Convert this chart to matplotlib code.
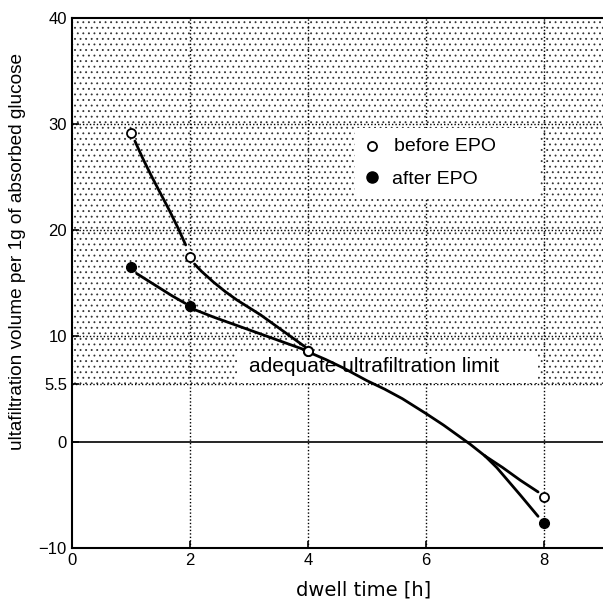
import matplotlib.pyplot as plt

# measured points
x_pts = [1, 2, 4, 8]
before_epo = [29.2, 17.5, 8.6, -5.2]
after_epo = [16.5, 12.8, 8.6, -7.6]

# hand-read fitted curves (segments between markers)
before_x1 = [1.07, 1.2, 1.35, 1.5, 1.65, 1.8, 1.93]
before_y1 = [28.4, 26.8, 25.1, 23.5, 21.9, 20.2, 18.6]
before_x2 = [2.08, 2.2, 2.4, 2.6, 2.8, 3.0, 3.2, 3.4, 3.6, 3.8, 3.95]
before_y2 = [16.8, 16.1, 15.1, 14.2, 13.4, 12.7, 12.0, 11.2, 10.4, 9.6, 9.0]
after_x1 = [1.1, 1.3, 1.5, 1.7, 1.92]
after_y1 = [15.9, 15.2, 14.5, 13.8, 13.1]
after_x2 = [2.08, 2.4, 2.8, 3.2, 3.6, 3.95]
after_y2 = [12.5, 11.8, 11.0, 10.2, 9.4, 8.7]
common_x = [4.05, 4.3, 4.6, 5.0, 5.3, 5.6, 6.0, 6.3, 6.55, 6.75, 7.0]
common_y = [8.4, 7.8, 7.0, 5.8, 5.0, 4.1, 2.7, 1.6, 0.6, -0.2, -1.3]
before_x3 = [7.0, 7.3, 7.6, 7.9]
before_y3 = [-1.3, -2.4, -3.6, -4.7]
after_x3 = [7.0, 7.2, 7.4, 7.6, 7.9]
after_y3 = [-1.3, -2.4, -3.7, -5.0, -7.0]

limit = 5.5
y_ticks = [-10, 0, 5.5, 10, 20, 30, 40]
y_tick_labels = ['\u221210', '0', '5.5', '10', '20', '30', '40']
x_ticks = [0, 2, 4, 6, 8]

plt.rcParams['font.family'] = ['Liberation Sans', 'DejaVu Sans']
plt.rcParams['hatch.color'] = '#333333'
plt.rcParams['hatch.linewidth'] = 0.6

fig = plt.figure(figsize=(6.03, 6.03), dpi=100)
ax = fig.add_axes([0.119, 0.091, 0.881, 0.879])
ax.set_xlim(0, 9)
ax.set_ylim(-10, 40)

# dotted shading above the limit
ax.fill_between([0, 9], limit, 40, facecolor='white', edgecolor='#333333',
                hatch='...', linewidth=0, zorder=0)

# grid
for xv in x_ticks[1:]:
    ax.axvline(xv, color='black', linestyle=(0, (1, 1.5)), linewidth=1.0, zorder=1)
for yv in [10, 20, 30, limit]:
    ax.axhline(yv, color='black', linestyle=(0, (1, 1.5)), linewidth=1.0, zorder=1)
ax.axhline(0, color='black', linewidth=1.2, zorder=1)

# white boxes for the labels
ax.add_patch(plt.Rectangle((2.8, limit + 0.1), 5.1, 2.75, facecolor='white',
                           edgecolor='none', zorder=2))
ax.text(3.0, 7.1, 'adequate ultrafiltration limit', fontsize=15, va='center',
        ha='left', zorder=2.5)
ax.add_patch(plt.Rectangle((4.8, 23.0), 3.13, 6.6, facecolor='white',
                           edgecolor='none', zorder=2))

# curves
lw = 2.0
for xs, ys in [(before_x1, before_y1), (before_x2, before_y2),
               (after_x1, after_y1), (after_x2, after_y2),
               (common_x, common_y), (before_x3, before_y3),
               (after_x3, after_y3)]:
    ax.plot(xs, ys, color='black', linewidth=lw, zorder=3,
            solid_joinstyle='round', solid_capstyle='round')

ax.plot(x_pts, after_epo, 'o', color='black', markersize=7, linestyle='none', zorder=4)
ax.plot(x_pts, before_epo, 'o', markerfacecolor='white', markeredgecolor='black',
        markeredgewidth=1.3, markersize=6.5, linestyle='none', zorder=5)

# legend drawn by hand
ax.plot([5.08], [27.9], 'o', markerfacecolor='white', markeredgecolor='black',
        markeredgewidth=1.3, markersize=6.5, zorder=4)
ax.text(5.46, 27.9, 'before EPO', fontsize=14, va='center', zorder=4)
ax.plot([5.08], [25.0], 'o', color='black', markersize=8, zorder=4)
ax.text(5.43, 24.8, 'after EPO', fontsize=14, va='center', zorder=4)

ax.set_xticks(x_ticks)
ax.set_yticks(y_ticks)
ax.set_yticklabels(y_tick_labels)
ax.tick_params(direction='in', length=5, width=1.2, labelsize=12)
ax.spines['right'].set_visible(False)
for s in ['left', 'bottom', 'top']:
    ax.spines[s].set_linewidth(1.5)

ax.set_xlabel('dwell time [h]', fontsize=14, family='DejaVu Sans')
ax.xaxis.set_label_coords(0.549, -0.062)
ax.set_ylabel('ultafiltration volume per 1g of absorbed glucose', fontsize=13.7)
ax.yaxis.set_label_coords(-0.087, 0.56)

fig.savefig('out.png', dpi=100)
